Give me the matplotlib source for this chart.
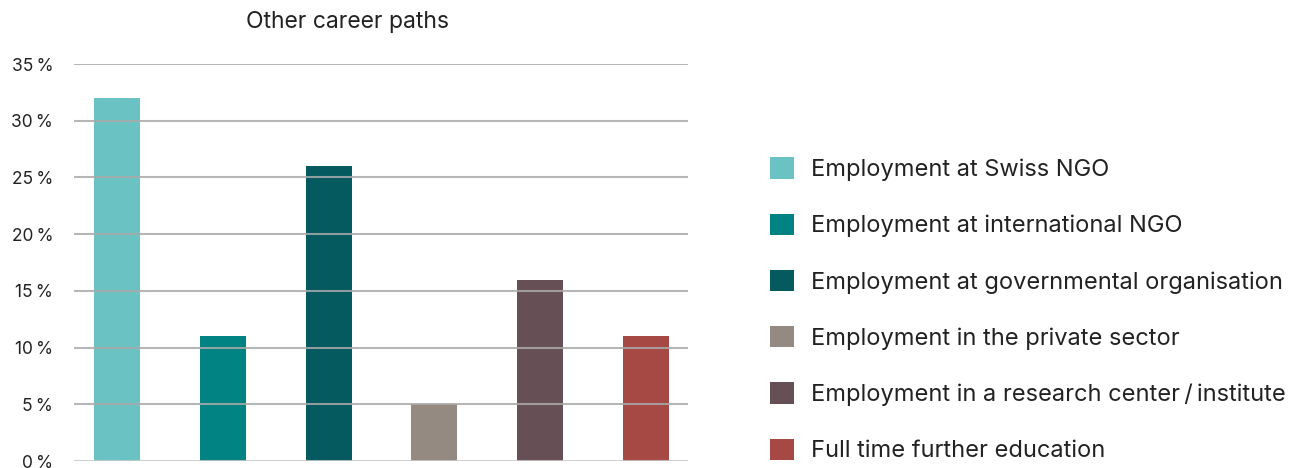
import matplotlib
matplotlib.use('Agg')
import matplotlib.pyplot as plt
from matplotlib.patches import Patch

plt.rcParams['font.family'] = ['Inter', 'DejaVu Sans']

categories = [
    'Employment at Swiss NGO',
    'Employment at international NGO',
    'Employment at governmental organisation',
    'Employment in the private sector',
    'Employment in a research center\u2009/\u2009institute',
    'Full time further education',
]
values = [32, 11, 26, 5, 16, 11]
colors = ['#6AC2C3', '#008382', '#055A60', '#958A81', '#664F55', '#A64944']
yticks = [0, 5, 10, 15, 20, 25, 30, 35]
ytick_labels = ['%d\u2009%%' % t for t in yticks]

fig = plt.figure(figsize=(12.94, 4.68), dpi=100)
ax = fig.add_axes([74 / 1294, 7 / 468, 614 / 1294, 397 / 468])

x = list(range(len(values)))
ax.bar(x, values, width=0.435, color=colors, zorder=1)

ax.set_xlim(-0.41, 5.40)
ax.set_ylim(0, 35)
ax.set_yticks(yticks)
ax.set_yticklabels(ytick_labels, fontsize=12.5, color='#222222')
ax.set_xticks([])
ax.tick_params(axis='y', length=0, pad=15)
for s in ax.spines.values():
    s.set_visible(False)
for t in yticks:
    ax.axhline(t, color='#aaaaaa' if t else '#c8c8c8', lw=1.5, alpha=0.85, zorder=3)

fig.text(348 / 1294, 1 - 22 / 468, 'Other career paths', ha='center', va='center',
         fontsize=16.5, color='#222222')

handles = [Patch(facecolor=c, edgecolor='none') for c in colors]
fig.legend(handles, categories, loc='upper left', bbox_to_anchor=(761 / 1294, 1 - 148 / 468),
           frameon=False, fontsize=17, handlelength=1.0, handleheight=1.0,
           handletextpad=0.7, labelspacing=1.38, borderaxespad=0, labelcolor='#222222')

fig.savefig('out.png', dpi=100)
